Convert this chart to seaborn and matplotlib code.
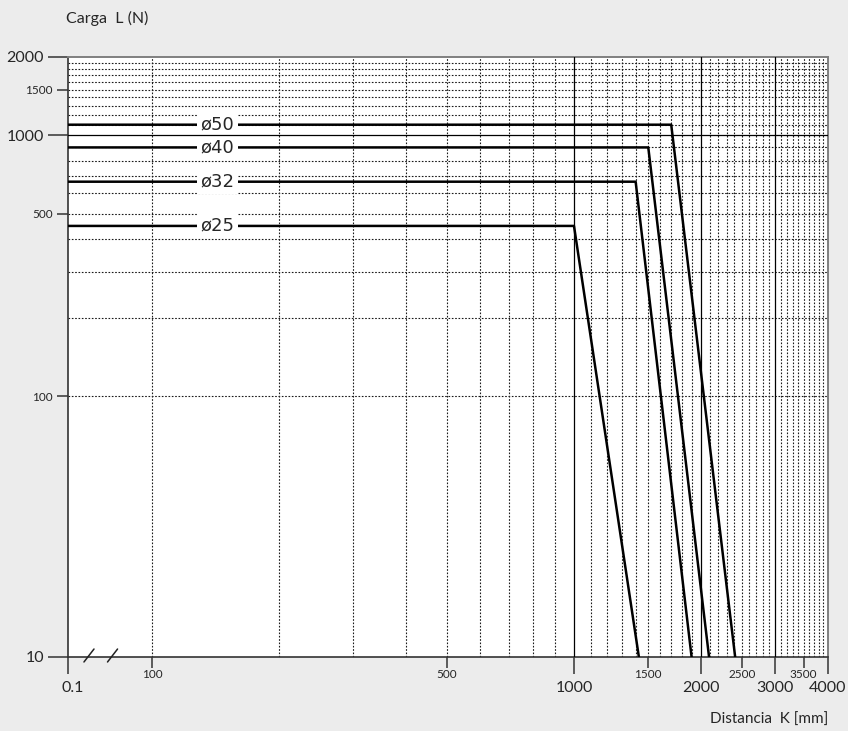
import matplotlib
matplotlib.use("Agg")
import matplotlib.pyplot as plt
import matplotlib.transforms as mtransforms
import seaborn as sns
import pandas as pd

# datos (carga admisible frente a distancia)
diametros = ["ø25", "ø32", "ø40", "ø50"]
k_inicio = 63.2            # borde izquierdo del eje (rotulado 0.1)
k_codo = [1000, 1400, 1500, 1700]
k_final = [1425, 1900, 2090, 2410]
carga_max = [450, 665, 900, 1100]
carga_min = 10

x_mayores = [k_inicio, 1000, 2000, 3000, 4000]
x_mayores_txt = ["0.1", "1000", "2000", "3000", "4000"]
x_menores = [100, 500, 1500, 2500, 3500]
x_menores_txt = ["100", "500", "1500", "2500", "3500"]
y_mayores = [10, 1000, 2000]
y_mayores_txt = ["10", "1000", "2000"]
y_menores = [100, 500, 1500]
y_menores_txt = ["100", "500", "1500"]

grid_x_punteada = (list(range(100, 1000, 100)) + list(range(1100, 2000, 100))
                   + list(range(2100, 3000, 100)) + list(range(3100, 4000, 100)))
grid_y_punteada = list(range(100, 1000, 100)) + list(range(1100, 2000, 100))
grid_x_solida = [1000, 2000, 3000]
grid_y_solida = [1000]

filas = []
for d, kc, kf, cm in zip(diametros, k_codo, k_final, carga_max):
    filas += [(d, k_inicio, cm), (d, kc, cm), (d, kf, carga_min)]
df = pd.DataFrame(filas, columns=["serie", "K", "L"])

sns.set_theme(style="white")
plt.rcParams["font.family"] = ["Lato", "DejaVu Sans"]

fig = plt.figure(figsize=(8.48, 7.31), dpi=100, facecolor="#ececec")
ax = fig.add_axes([68 / 848, 74 / 731, 760 / 848, 600 / 731])
ax.set_facecolor("white")

sns.lineplot(data=df, x="K", y="L", hue="serie", palette=["black"] * 4,
             sort=False, estimator=None, legend=False, linewidth=1.8,
             ax=ax, zorder=3)

ax.set_xscale("log")
ax.set_yscale("log")
ax.set_xlim(k_inicio, 4000)
ax.set_ylim(10, 2000)

# rejilla
for v in grid_x_punteada:
    ax.axvline(v, color="#1a1a1a", lw=0.8, ls=(0, (1.5, 1.5)), zorder=1)
for v in grid_y_punteada:
    ax.axhline(v, color="#1a1a1a", lw=0.8, ls=(0, (1.5, 1.5)), zorder=1)
for v in grid_x_solida:
    ax.axvline(v, color="black", lw=0.9, zorder=5)
for v in grid_y_solida:
    ax.axhline(v, color="black", lw=0.9, zorder=5)

# ticks
ax.set_xticks(x_mayores, x_mayores_txt)
ax.set_xticks(x_menores, x_menores_txt, minor=True)
ax.set_yticks(y_mayores, y_mayores_txt)
ax.set_yticks(y_menores, y_menores_txt, minor=True)
ax.tick_params(axis="x", which="major", length=12, width=1.1, color="#333333",
               labelsize=11.5, pad=5, direction="out", bottom=True)
ax.tick_params(axis="x", which="minor", length=8, width=1.1, color="#333333",
               labelsize=8.5, pad=1, direction="out", bottom=True)
ax.tick_params(axis="y", which="major", length=14.4, width=1.1, color="#333333",
               labelsize=11.5, pad=3, direction="out", left=True)
ax.tick_params(axis="y", which="minor", length=8, width=1.1, color="#333333",
               labelsize=8.5, pad=3, direction="out", left=True)
# el rotulo 0.1 va un poco a la derecha de su marca
desplaza = mtransforms.ScaledTranslation(5 / 100, 0, fig.dpi_scale_trans)
for lbl in ax.get_xticklabels():
    if lbl.get_text() == "0.1":
        lbl.set_transform(lbl.get_transform() + desplaza)
ax.set_xlabel("")
ax.set_ylabel("")

for s in ["left", "bottom"]:
    ax.spines[s].set_color("#333333")
    ax.spines[s].set_linewidth(1.2)
for s in ["top", "right"]:
    ax.spines[s].set_color("#808080")
    ax.spines[s].set_linewidth(1.4)

# rotulos de las curvas
for d, cm in zip(diametros, carga_max):
    ax.text(143, cm, d, ha="center", va="center", fontsize=13, zorder=4,
            family="DejaVu Sans",
            bbox=dict(facecolor="white", edgecolor="none", pad=2.5))

# marcas de corte del eje X
for xf in [0.0276, 0.0586]:
    ax.plot([xf - 0.0066, xf + 0.0066], [-0.0083, 0.0133], color="#222222",
            lw=1.1, transform=ax.transAxes, clip_on=False, zorder=6)

fig.text(66 / 848, 1 - 18 / 731, "Carga  L (N)", ha="left", va="center",
         fontsize=11.5)
fig.text(828 / 848, 1 - 720 / 731, "Distancia  K [mm]", ha="right",
         va="center", fontsize=11)

fig.savefig("out.png", dpi=100, facecolor=fig.get_facecolor())
